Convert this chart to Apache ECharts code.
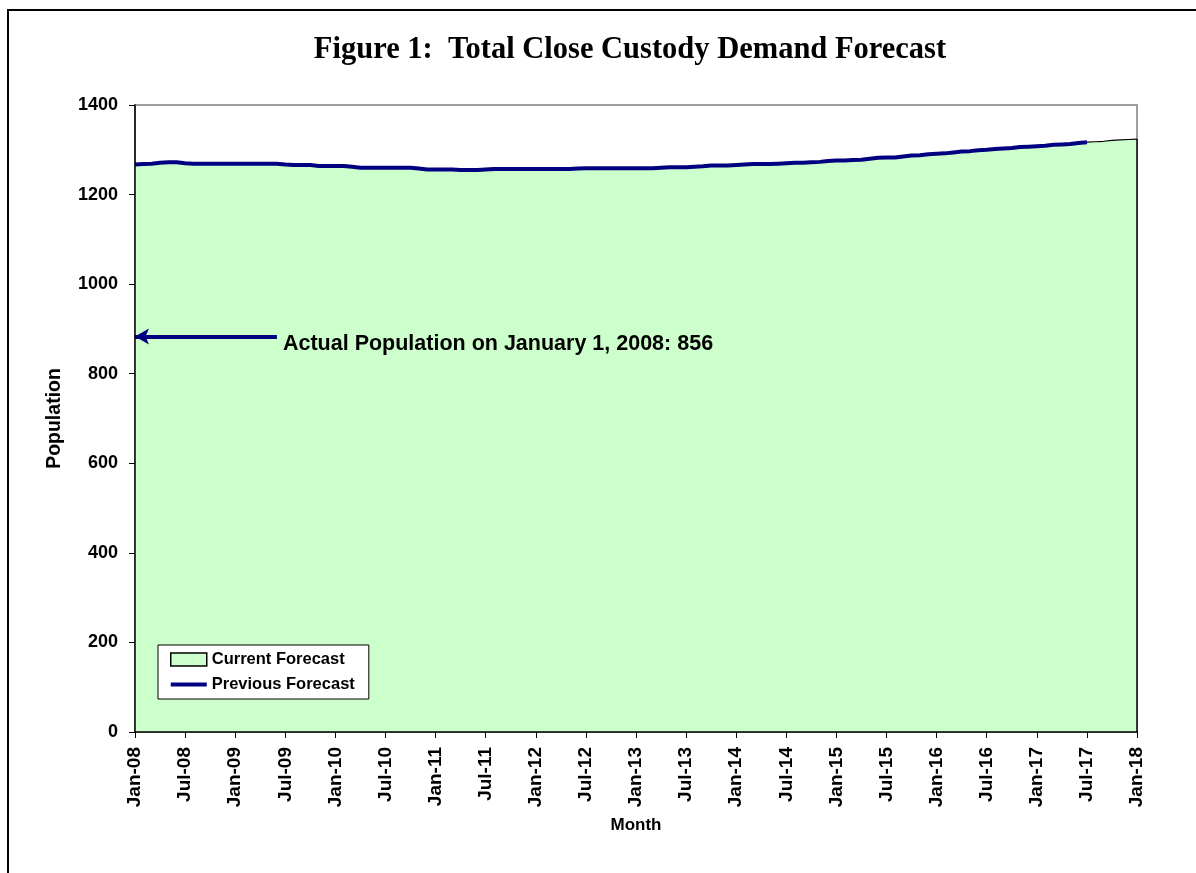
<!DOCTYPE html>
<html>
<head>
<meta charset="utf-8">
<script src="https://cdn.jsdelivr.net/npm/echarts@6/dist/echarts.min.js"></script>
<style>
html,body{margin:0;padding:0;background:#fff;}
#chart{width:1196px;height:873px;}
</style>
</head>
<body>
<div id="chart"></div>
<script>
const titleText = 'Figure 1:  Total Close Custody Demand Forecast';
const monthNames = ['Jan','Feb','Mar','Apr','May','Jun','Jul','Aug','Sep','Oct','Nov','Dec'];
const years = ['08','09','10','11','12','13','14','15','16','17','18'];
const categories = [];
for (const y of years) for (const m of monthNames) { if (categories.length < 121) categories.push(m + '-' + y); }

const currentForecast = [
1267,1268,1269,1271,1272,1272,1270,1269,1269,1269,1269,1269,
1269,1269,1269,1269,1269,1269,1267,1266,1266,1266,1264,1264,
1264,1264,1262,1260,1260,1260,1260,1260,1260,1260,1258,1256,
1256,1256,1256,1255,1255,1255,1256,1257,1257,1257,1257,1257,
1257,1257,1257,1257,1257,1258,1259,1259,1259,1259,1259,1259,
1259,1259,1259,1260,1261,1261,1261,1262,1263,1265,1265,1265,
1266,1267,1268,1268,1268,1269,1270,1271,1271,1272,1273,1275,
1276,1276,1277,1278,1280,1282,1283,1283,1285,1287,1288,1290,
1291,1292,1294,1296,1297,1299,1300,1302,1303,1304,1306,1307,
1308,1309,1311,1312,1313,1315,1317,1318,1319,1321,1322,1323,
1324];

const previousForecast = [
1267,1268,1269,1271,1272,1272,1270,1269,1269,1269,1269,1269,
1269,1269,1269,1269,1269,1269,1267,1266,1266,1266,1264,1264,
1264,1264,1262,1260,1260,1260,1260,1260,1260,1260,1258,1256,
1256,1256,1256,1255,1255,1255,1256,1257,1257,1257,1257,1257,
1257,1257,1257,1257,1257,1258,1259,1259,1259,1259,1259,1259,
1259,1259,1259,1260,1261,1261,1261,1262,1263,1265,1265,1265,
1266,1267,1268,1268,1268,1269,1270,1271,1271,1272,1273,1275,
1276,1276,1277,1278,1280,1282,1283,1283,1285,1287,1288,1290,
1291,1292,1294,1296,1297,1299,1300,1302,1303,1304,1306,1307,
1308,1309,1311,1312,1313,1315,1317];

const yTicks = [0,200,400,600,800,1000,1200,1400];
const arrowLevel = 883;
const arrowEndIndex = 17;
const annotationText = 'Actual Population on January 1, 2008: 856';

const chart = echarts.init(document.getElementById('chart'));
const font = '"Liberation Sans", Arial, sans-serif';
const lastCat = categories[categories.length - 1];
const lastVal = currentForecast[currentForecast.length - 1];
chart.setOption({
  animation: false,
  backgroundColor: '#ffffff',
  title: {
    text: titleText,
    left: 625, top: 30, textAlign: 'center',
    textStyle: {fontFamily: '"Liberation Serif","Times New Roman",serif', fontWeight: 'bold', fontSize: 30.5, color: '#000'}
  },
  graphic: [{
    type: 'rect', shape: {x: 8, y: 10, width: 1200, height: 880},
    style: {fill: 'none', stroke: '#000', lineWidth: 2}, silent: true, z: 100
  }],
  legend: {
    orient: 'vertical', left: 158, top: 645,
    padding: [6, 14, 6, 12], itemGap: 8,
    backgroundColor: '#fff', borderColor: '#000', borderWidth: 1,
    itemWidth: 36, itemHeight: 13,
    textStyle: {fontFamily: font, fontWeight: 'bold', fontSize: 16.5, color: '#000'},
    data: [
      {name: 'Current Forecast', icon: 'rect', itemStyle: {color: '#ccffcc', borderColor: '#000', borderWidth: 1.5}},
      {name: 'Previous Forecast', icon: 'path://M0,5 L36,5 L36,9 L0,9 Z', itemStyle: {color: '#000080'}}
    ]
  },
  grid: {left: 135, right: 59, top: 105, bottom: 141, show: true, borderColor: '#808080', borderWidth: 1.5, backgroundColor: 'transparent'},
  xAxis: {
    type: 'category', data: categories, boundaryGap: false, z: 5,
    name: 'Month', nameLocation: 'middle', nameGap: 85,
    nameTextStyle: {fontFamily: font, fontWeight: 'bold', fontSize: 17, color: '#000'},
    axisLine: {lineStyle: {color: '#000', width: 1.5}},
    axisTick: {interval: 5, length: 6, lineStyle: {color: '#000'}},
    axisLabel: {interval: 5, rotate: 90, margin: 15, fontFamily: font, fontWeight: 'bold', fontSize: 19, color: '#000'},
    splitLine: {show: false}
  },
  yAxis: {
    type: 'value', min: 0, max: 1400, interval: 200, z: 5,
    name: 'Population', nameLocation: 'middle', nameGap: 70, nameRotate: 90,
    nameTextStyle: {fontFamily: font, fontWeight: 'bold', fontSize: 19.5, color: '#000'},
    axisLine: {show: true, lineStyle: {color: '#000', width: 1.5}},
    axisTick: {show: true, length: 6, lineStyle: {color: '#000'}},
    axisLabel: {margin: 17, fontFamily: font, fontWeight: 'bold', fontSize: 18, color: '#000',
      formatter: v => yTicks.includes(v) ? String(v) : ''},
    splitLine: {show: false}
  },
  series: [
    {
      name: 'Current Forecast', type: 'line', data: currentForecast,
      showSymbol: false, symbol: 'none',
      lineStyle: {color: '#000', width: 1.2},
      itemStyle: {color: '#ccffcc'},
      areaStyle: {color: '#ccffcc', opacity: 1},
      z: 2,
      markLine: {
        silent: true, symbol: ['none', 'none'],
        lineStyle: {color: '#000', width: 1.5, type: 'solid'},
        label: {show: false},
        data: [[{coord: [lastCat, 0]}, {coord: [lastCat, lastVal]}]]
      }
    },
    {
      name: 'Previous Forecast', type: 'line', data: previousForecast,
      showSymbol: false, symbol: 'none',
      lineStyle: {color: '#000080', width: 4},
      itemStyle: {color: '#000080'},
      z: 3,
      markLine: {
        silent: true,
        symbol: ['arrow', 'none'], symbolSize: [12, 14],
        lineStyle: {color: '#000080', width: 4, type: 'solid'},
        label: {show: true, position: 'end', formatter: annotationText, distance: 6, offset: [0, 8],
          fontFamily: font, fontWeight: 'bold', fontSize: 21.5, color: '#000'},
        data: [[{coord: [categories[0], arrowLevel]}, {coord: [categories[arrowEndIndex], arrowLevel]}]]
      }
    }
  ]
});
</script>
</body>
</html>
